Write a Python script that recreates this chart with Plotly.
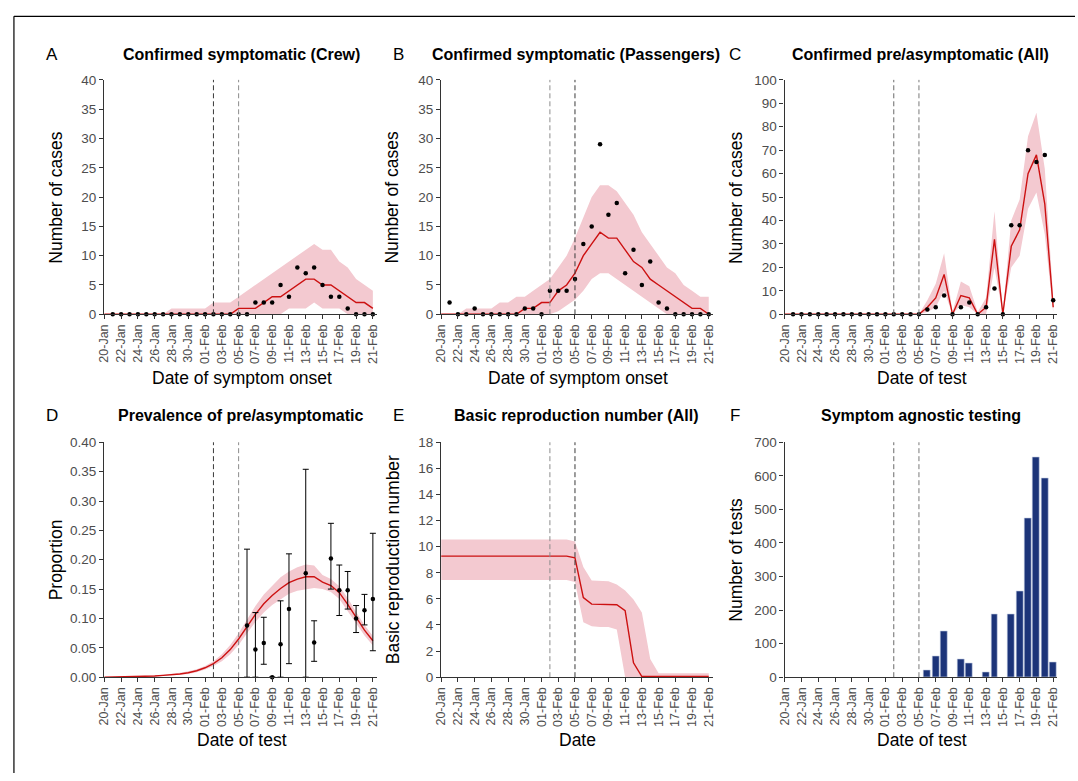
import pandas as pd
import plotly.graph_objects as go

W, H = 1078, 781
FONT = "Liberation Sans, Arial, Helvetica, sans-serif"
RED = "#cc1111"
PINK = "#f3c9d0"
NAVY = "#1c3479"

# Calendar: 20-Jan (day 0) to 21-Feb (day 32)
dates = pd.date_range("2020-01-20", "2020-02-21", freq="D")
obs_dates = dates[1:]  # observations start on 21-Jan

# ---- A: confirmed symptomatic, crew (by onset date) ----
crew_obs = [0, 0, 0, 0, 0, 0, 0, 0, 0, 0, 0, 0, 0, 0, 0, 0, 0,
            2, 2, 2, 5, 3, 8, 7, 8, 5, 3, 3, 1, 0, 0, 0]
crew_med = [0, 0, 0, 0, 0, 0, 0, 0, 0, 0, 0, 0, 0, 0, 0, 0,
            1, 1, 1, 2, 3, 3, 4, 5, 6, 6, 5, 5, 4, 3, 2, 2, 1]
crew_hi = [0, 0, 0, 0, 0, 0, 0, 0, 1, 1, 1, 1, 1, 2, 2, 2,
           3, 4, 5, 6, 7, 8, 9, 10, 11, 12, 11, 11, 9, 8, 6, 5, 4]
crew_lo = [0, 0, 0, 0, 0, 0, 0, 0, 0, 0, 0, 0, 0, 0, 0, 0,
           0, 0, 0, 0, 0, 0, 1, 1, 1, 2, 1, 1, 1, 0, 0, 0, 0]

# ---- B: confirmed symptomatic, passengers ----
pass_obs = [2, 0, 0, 1, 0, 0, 0, 0, 0, 1, 1, 0, 4, 4, 4, 6,
            12, 15, 29, 17, 19, 7, 11, 5, 9, 2, 1, 0, 0, 0, 0, 0]
pass_med = [0, 0, 0, 0, 0, 0, 0, 0, 0, 0, 1, 1, 2, 2, 4, 5,
            7, 10, 12, 14, 13, 13, 11, 9, 8, 6, 5, 4, 3, 2, 1, 1, 0]
pass_hi = [0, 0, 0, 1, 1, 1, 1, 2, 2, 3, 3, 4, 5, 6, 8, 10,
           13, 16.5, 20, 22, 22, 21, 19, 17, 14, 12, 10, 8, 7, 5, 4, 3, 3]
pass_lo = [0, 0, 0, 0, 0, 0, 0, 0, 0, 0, 0, 0, 0, 0, 0.5, 1.5,
           2.5, 4, 6, 7, 7, 6, 5, 4, 3, 2, 1, 0, 0, 0, 0, 0, 0]

# ---- C: confirmed pre/asymptomatic, all (by test date) ----
asym_obs = [0, 0, 0, 0, 0, 0, 0, 0, 0, 0, 0, 0, 0, 0, 0, 0,
            2, 3, 8, 0, 3, 5, 0, 3, 11, 0, 38, 38, 70, 65, 68, 6]
asym_med = [0, 0, 0, 0, 0, 0, 0, 0, 0, 0, 0, 0, 0, 0, 0, 0, 0,
            3, 7, 17, 0, 8, 7, 0, 3, 32, 0, 29, 36, 60, 68, 47, 3]
asym_hi = [0, 0, 0, 0, 0, 0, 0, 0, 0, 0, 0, 0, 0, 0, 0, 0, 0,
           6, 13, 26, 1, 14, 12, 1, 7, 44, 1, 40, 49, 76, 86, 62, 7]
asym_lo = [0, 0, 0, 0, 0, 0, 0, 0, 0, 0, 0, 0, 0, 0, 0, 0, 0,
           1, 3, 10, 0, 4, 3, 0, 0, 20, 0, 20, 25, 45, 52, 34, 1]

# ---- D: prevalence of pre/asymptomatic ----
prev_med = [0.0, 0.0002, 0.0004, 0.0007, 0.001, 0.0015, 0.002, 0.003, 0.004,
            0.0055, 0.0075, 0.011, 0.016, 0.023, 0.033, 0.047, 0.065, 0.087,
            0.107, 0.125, 0.139, 0.151, 0.161, 0.167, 0.171, 0.171, 0.162,
            0.156, 0.144, 0.124, 0.101, 0.080, 0.062]
prev_hi = [0.0, 0.0003, 0.0006, 0.001, 0.0014, 0.002, 0.0028, 0.004, 0.0055,
           0.0075, 0.010, 0.0135, 0.019, 0.027, 0.039, 0.055, 0.075, 0.099,
           0.121, 0.141, 0.156, 0.170, 0.180, 0.187, 0.192, 0.190, 0.174,
           0.167, 0.155, 0.135, 0.111, 0.089, 0.070]
prev_lo = [0.0, 0.0001, 0.0002, 0.0004, 0.0006, 0.001, 0.0013, 0.002, 0.0028,
           0.004, 0.0055, 0.0085, 0.013, 0.019, 0.027, 0.039, 0.055, 0.075,
           0.094, 0.110, 0.123, 0.133, 0.142, 0.147, 0.150, 0.152, 0.150,
           0.145, 0.133, 0.113, 0.091, 0.071, 0.054]
prev_days = ["2020-02-06", "2020-02-07", "2020-02-08", "2020-02-09", "2020-02-10",
             "2020-02-11", "2020-02-13", "2020-02-14", "2020-02-16", "2020-02-17",
             "2020-02-18", "2020-02-19", "2020-02-20", "2020-02-21"]
prev_obs = [0.088, 0.047, 0.058, 0.0, 0.056, 0.116, 0.177, 0.059, 0.202, 0.148,
            0.148, 0.100, 0.114, 0.133]
prev_obs_lo = [0.0, 0.0, 0.022, 0.0, 0.0, 0.023, 0.0, 0.027, 0.150, 0.105,
               0.116, 0.076, 0.089, 0.045]
prev_obs_hi = [0.218, 0.110, 0.102, 0.0, 0.130, 0.210, 0.354, 0.096, 0.262, 0.191,
               0.180, 0.122, 0.141, 0.245]

# ---- E: basic reproduction number ----
r0_med = [9.28] * 16 + [9.15, 6.1, 5.6, 5.6, 5.6, 5.55, 5.1, 1.1,
                        0.05, 0.05, 0.05, 0.05, 0.05, 0.05, 0.05, 0.05, 0.05]
r0_hi = [10.55] * 16 + [10.4, 8.45, 7.4, 7.4, 7.35, 7.1, 6.65, 5.95,
                        4.95, 1.4, 0.3, 0.3, 0.3, 0.3, 0.3, 0.3, 0.3]
r0_lo = [7.45] * 16 + [7.3, 4.2, 3.9, 3.85, 3.85, 3.65, 0.0, 0.0,
                       0.0, 0.0, 0.0, 0.0, 0.0, 0.0, 0.0, 0.0, 0.0]

# ---- F: symptom agnostic testing ----
test_days = ["2020-02-06", "2020-02-07", "2020-02-08", "2020-02-10", "2020-02-11",
             "2020-02-13", "2020-02-14", "2020-02-16", "2020-02-17", "2020-02-18",
             "2020-02-19", "2020-02-20", "2020-02-21"]
test_counts = [21, 62, 136, 52, 41, 15, 186, 186, 255, 473, 655, 594, 43]

# ---- panel geometry (pixels) ----
TOP_ROW = (74.3, 313.3)
BOT_ROW = (443.8, 683.3)
COLS = [(98.1, 373.3), (438.1, 712.3), (784.8, 1060.0)]
XRANGE = ["2020-01-19 23:30", "2020-02-21 11:20"]

panels = [
    dict(col=0, row=TOP_ROW, letter="A", title="Confirmed symptomatic (Crew)",
         ytitle="Number of cases", xtitle="Date of symptom onset",
         yrange=[0, 40], dtick=5, fmt=None, dashes=("#3a3a3a", "#8c8c8c")),
    dict(col=1, row=TOP_ROW, letter="B", title="Confirmed symptomatic (Passengers)",
         ytitle="Number of cases", xtitle="Date of symptom onset",
         yrange=[0, 40], dtick=5, fmt=None, dashes=("#8c8c8c", "#3a3a3a")),
    dict(col=2, row=TOP_ROW, letter="C", title="Confirmed pre/asymptomatic (All)",
         ytitle="Number of cases", xtitle="Date of test",
         yrange=[0, 100], dtick=10, fmt=None, dashes=("#6a6a6a", "#7a7a7a")),
    dict(col=0, row=BOT_ROW, letter="D", title="Prevalence of pre/asymptomatic",
         ytitle="Proportion", xtitle="Date of test",
         yrange=[0, 0.4], dtick=0.05, fmt=".2f", dashes=("#3a3a3a", "#8c8c8c")),
    dict(col=1, row=BOT_ROW, letter="E", title="Basic reproduction number (All)",
         ytitle="Basic reproduction number", xtitle="Date",
         yrange=[0, 18], dtick=2, fmt=None, dashes=("#8c8c8c", "#3a3a3a")),
    dict(col=2, row=BOT_ROW, letter="F", title="Symptom agnostic testing",
         ytitle="Number of tests", xtitle="Date of test",
         yrange=[0, 700], dtick=100, fmt=None, dashes=("#6a6a6a", "#7a7a7a")),
]

fig = go.Figure()


def px_x(v):
    return v / W


def px_y(v):
    return 1 - v / H


def band(i, hi, lo):
    ax = "" if i == 0 else str(i + 1)
    fig.add_trace(go.Scatter(
        x=list(dates) + list(dates[::-1]), y=list(hi) + list(lo[::-1]),
        fill="toself", fillcolor=PINK, line=dict(width=0), mode="lines",
        hoverinfo="skip", showlegend=False, xaxis="x" + ax, yaxis="y" + ax))


def median_line(i, med):
    ax = "" if i == 0 else str(i + 1)
    fig.add_trace(go.Scatter(
        x=dates, y=med, mode="lines", line=dict(color=RED, width=1.4),
        showlegend=False, xaxis="x" + ax, yaxis="y" + ax))


def dots(i, x, y, **kw):
    ax = "" if i == 0 else str(i + 1)
    fig.add_trace(go.Scatter(
        x=x, y=y, mode="markers", marker=dict(color="black", size=4.5),
        cliponaxis=False, showlegend=False, xaxis="x" + ax, yaxis="y" + ax, **kw))


# A
band(0, crew_hi, crew_lo)
median_line(0, crew_med)
dots(0, obs_dates, crew_obs)
# B
band(1, pass_hi, pass_lo)
median_line(1, pass_med)
dots(1, obs_dates, pass_obs)
# C
band(2, asym_hi, asym_lo)
median_line(2, asym_med)
dots(2, obs_dates, asym_obs)
# D
band(3, prev_hi, prev_lo)
median_line(3, prev_med)
dots(3, pd.to_datetime(prev_days), prev_obs,
     error_y=dict(type="data", symmetric=False,
                  array=[h - v for h, v in zip(prev_obs_hi, prev_obs)],
                  arrayminus=[v - l for v, l in zip(prev_obs, prev_obs_lo)],
                  color="black", thickness=1, width=3))
# E
band(4, r0_hi, r0_lo)
median_line(4, r0_med)
# F
fig.add_trace(go.Bar(
    x=pd.to_datetime(test_days), y=test_counts, width=0.82 * 86400000,
    marker=dict(color=NAVY, line=dict(color="#c9d2e6", width=0.6)),
    showlegend=False, xaxis="x6", yaxis="y6"))

annotations = []
shapes = []
for i, p in enumerate(panels):
    ax = "" if i == 0 else str(i + 1)
    x0, x1 = COLS[p["col"]]
    ytop, ybot = p["row"]
    fig.layout["xaxis" + ax] = dict(
        domain=[px_x(x0), px_x(x1)], anchor="y" + ax, type="date",
        range=XRANGE, tick0="2020-01-20", dtick=2 * 86400000, tickformat="%d-%b",
        tickangle=-90, showgrid=False, zeroline=False, showline=True,
        linecolor="#333333", linewidth=1.3, ticks="outside", ticklen=4,
        tickcolor="#333333", tickwidth=1,
        tickfont=dict(family=FONT, size=12.5, color="#4d4d4d"))
    yax = dict(
        domain=[px_y(ybot), px_y(ytop)], anchor="x" + ax, range=p["yrange"],
        dtick=p["dtick"], tick0=0, showgrid=False, zeroline=False, showline=True,
        linecolor="#333333", linewidth=1.3, ticks="outside", ticklen=4,
        tickcolor="#333333", tickwidth=1,
        tickfont=dict(family=FONT, size=13.5, color="#4d4d4d"))
    if p["fmt"]:
        yax["tickformat"] = p["fmt"]
    fig.layout["yaxis" + ax] = yax

    # intervention dates
    for d, c in zip(["2020-02-02", "2020-02-05"], p["dashes"]):
        shapes.append(dict(type="line", xref="x" + ax, yref="y" + ax + " domain",
                           x0=d, x1=d, y0=0, y1=1, layer="above",
                           line=dict(color=c, width=1, dash="5px,3px")))

    cx = (x0 + x1) / 2
    title_y = 48 if ytop < 200 else 417
    title_x = [236.5, 574, 922.5][p["col"]]
    annotations.append(dict(text="<b>%s</b>" % p["title"], x=px_x(title_x),
                            y=px_y(title_y), xref="paper", yref="paper",
                            showarrow=False, xanchor="center", yanchor="middle",
                            font=dict(family=FONT, size=16, color="black")))
    annotations.append(dict(text=p["letter"], x=px_x([45, 395, 735][p["col"]]),
                            y=px_y(title_y), xref="paper", yref="paper",
                            showarrow=False, xanchor="center", yanchor="middle",
                            font=dict(family=FONT, size=17, color="black")))
    annotations.append(dict(text=p["xtitle"], x=px_x(cx + 1),
                            y=px_y(378 if ytop < 200 else 747),
                            xref="paper", yref="paper", showarrow=False,
                            xanchor="center", yanchor="middle",
                            font=dict(family=FONT, size=17.5, color="black")))
    annotations.append(dict(text=p["ytitle"], x=px_x(x0 - 49), y=px_y((ytop + ybot) / 2),
                            xref="paper", yref="paper", showarrow=False, textangle=-90,
                            xanchor="center", yanchor="middle",
                            font=dict(family=FONT, size=17.5, color="black")))

# figure frame (top and left rules)
shapes.append(dict(type="line", xref="paper", yref="paper", x0=px_x(7), x1=1,
                   y0=px_y(9.5), y1=px_y(9.5), line=dict(color="black", width=1.2)))
shapes.append(dict(type="line", xref="paper", yref="paper", x0=px_x(7), x1=px_x(7),
                   y0=0, y1=px_y(9.5), line=dict(color="black", width=1.2)))

fig.update_layout(width=W, height=H, margin=dict(l=0, r=0, t=0, b=0),
                  paper_bgcolor="white", plot_bgcolor="white",
                  annotations=annotations, shapes=shapes, bargap=0)

fig.write_html("out.html")
